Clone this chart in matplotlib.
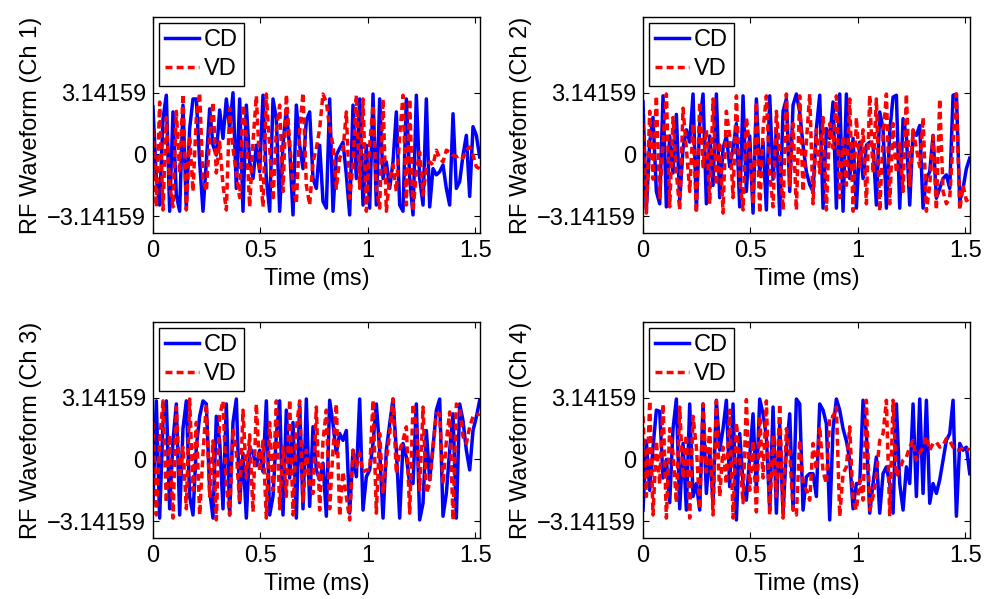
import numpy as np
import matplotlib
matplotlib.use('Agg')
import matplotlib.pyplot as plt

plt.rcParams['font.family'] = ['Liberation Sans', 'DejaVu Sans']

#----------------------------------------
# Data: wrapped RF phase, in units of pi, sampled on a uniform time grid
T_END = 1.52  # ms
channels = ['Ch 1', 'Ch 2', 'Ch 3', 'Ch 4']

cd_ch1 = [0.77, -0.39, -0.82, 0.58, 0.96, -0.92, 0.69, -0.66, -0.92, 0.8,
          -0.87, 0.42, 0.9, 0.9, -0.12, -0.92, -0.12, 0.74, 0.15, -0.01,
          0.72, 0.26, 0.9, 0.42, 1.0, -0.55, 0.9, -0.92, 0.8, -0.12,
          -0.39, 0.15, -0.28, 0.96, -0.39, -0.92, 0.9, 0.58, -0.92, 0.15,
          0.74, 0.1, -0.98, 0.8, 0.15, -0.23, 0.55, 0.69, -0.39, -0.55,
          0.15, -0.76, -0.87, 0.9, -0.92, -0.01, 0.1, 0.2, -0.33, -0.98,
          0.8, -0.39, 0.9, -0.82, 0.15, -0.87, 0.98, -0.82, 0.9, -0.39,
          -0.12, -0.55, -0.12, 0.69, -0.82, -0.92, 0.9, -0.39, -0.98, 0.96,
          -0.39, -0.82, 0.9, -0.85, -0.23, -0.33, -0.28, -0.17, -0.55, -0.82,
          0.66, -0.55, -0.44, -0.01, 0.31, -0.68, 0.45, 0.31, -0.04]
vd_ch1 = [0.4, -0.85, 0.85, -0.9, 0.6, -0.5, -0.85, 0.7, -0.3, 0.98,
          -0.9, 0.3, -0.6, 0.6, 1.0, -0.4, -0.6, 0.3, 0.85, -0.3,
          0.2, -0.5, -0.9, 0.75, 0.1, -0.3, -0.7, 0.8, 0.3, -0.85,
          0.2, 0.95, -0.2, -0.85, 0.98, 0.1, -0.75, 0.4, 0.8, -0.6,
          0.97, 0.2, -0.5, -0.8, 0.4, 1.0, -0.5, -0.82, -0.12, 0.1,
          0.42, 0.98, 0.85, 0.42, 0.15, -0.55, -0.06, 0.07, 0.69, -0.71,
          -0.17, 0.96, -0.55, 0.9, -0.92, 0.15, 0.8, -0.55, -0.87, 0.9,
          -0.92, -0.39, -0.17, -0.6, 0.31, 0.96, -0.82, 0.9, -0.92, -0.28,
          0.04, -0.66, -0.23, -0.12, -0.17, 0.07, -0.06, -0.12, 0.07, 0.04,
          -0.01, -0.04, -0.01, -0.06, 0.07, 0.12, -0.01, -0.2, -0.23]

cd_ch2 = [0.85, -0.9, 0.2, 0.6, -0.6, -0.8, 0.95, -0.85, 0.3, -0.3,
          0.65, -0.75, 0.1, 0.4, 0.2, 0.98, -0.9, 0.5, 0.98, -0.8,
          0.3, -0.5, 0.98, -0.7, 0.1, 0.3, -0.2, 0.1, 0.5, -0.85,
          0.95, -0.6, 0.3, -0.95, 0.9, -0.3, 0.2, -0.9, 0.95, -0.4,
          0.4, -0.98, 0.7, 0.9, -0.6, 0.8, 0.98, 0.69, 0.15, -0.28,
          -0.49, -0.6, 0.42, 0.96, -0.87, 0.42, 0.26, 0.85, -0.87, 0.98,
          -0.92, 0.98, -0.39, 0.26, -0.87, 0.2, -0.39, 0.15, 0.2, 0.15,
          -0.82, 0.69, 0.42, -0.87, 0.37, 0.93, 0.96, -0.87, 0.58, 0.31,
          -0.82, 0.37, 0.31, 0.47, -0.87, -0.39, -0.28, 0.31, -0.71, -0.55,
          -0.39, -0.33, -0.55, 0.96, 0.98, -0.76, -0.55, -0.23, -0.06]
vd_ch2 = [0.5, -0.95, 0.7, -0.4, 0.95, -0.7, 0.2, 0.98, -0.85, 0.6,
          -0.3, -0.9, 0.75, 0.1, -0.6, 0.5, -0.95, 0.85, -0.2, 0.4,
          -0.8, 0.9, -0.5, 0.2, -0.95, 0.7, 0.3, -0.7, 0.95, -0.4,
          -0.9, 0.6, 0.1, -0.8, 0.85, -0.95, 0.4, 0.95, -0.3, -0.85,
          0.7, 0.0, -0.9, 0.98, -0.5, 0.5, -0.9, 0.95, -0.6, 0.2,
          0.98, -0.8, 0.4, -0.3, 0.6, -0.9, 0.5, 0.1, 0.95, -0.7,
          0.3, -0.5, 0.9, -0.92, 0.6, -0.2, 0.4, -0.8, 0.96, -0.3,
          0.9, -0.92, 0.3, 0.98, -0.8, 0.5, -0.3, 0.2, -0.6, 0.98,
          -0.5, 0.4, 0.1, -0.2, 0.6, -0.92, -0.5, 0.3, -0.9, 0.9,
          -0.6, -0.8, -0.7, 0.2, 0.98, -0.9, -0.5, -0.75, -0.7]

cd_ch3 = [-0.7, 0.95, -0.95, 0.6, 0.95, -0.8, 0.3, 0.9, -0.9, 0.5,
          0.95, -0.6, -0.9, 0.2, 0.7, 0.95, 0.9, -0.5, -0.95, 0.7,
          0.3, -0.8, 0.9, -0.9, 0.6, 0.98, -0.7, 0.1, -0.95, 0.2,
          0.1, -0.1, 0.15, -0.2, 0.95, -0.9, -0.6, 0.4, 0.95, -0.9,
          0.8, -0.3, 0.6, -0.95, 0.9, -0.8, 0.98, -0.76, 0.53, -0.17,
          -0.33, -0.06, -0.92, 0.96, 0.58, 0.1, 0.42, 0.31, 0.47, -0.87,
          0.15, -0.28, 0.98, -0.82, -0.28, -0.17, 0.26, 0.9, 0.15, -0.95,
          0.15, 0.58, 0.98, 0.15, -0.95, 0.26, 0.04, -0.39, -0.39, 0.9,
          -0.98, -0.71, 0.47, -0.33, 0.2, 0.8, 0.98, -0.92, -0.55, 0.15,
          0.74, -0.95, 0.9, 0.63, 0.15, -0.17, 0.47, 0.69, 0.96]
vd_ch3 = [0.6, -0.9, 0.3, 0.95, -0.7, 0.4, -0.95, 0.85, -0.3, 0.2,
          -0.8, 0.98, -0.5, 0.6, -0.9, 0.1, 0.9, -0.6, 0.3, -0.98,
          0.7, 0.95, -0.4, -0.9, 0.5, 0.1, -0.7, 0.8, -0.3, 0.4,
          -0.85, 0.9, -0.2, 0.3, -0.95, 0.6, -0.5, 0.95, -0.8, 0.2,
          -0.6, 0.97, -0.9, 0.5, 0.95, -0.7, 0.15, -0.39, -0.55, 0.85,
          -0.82, 0.3, 0.8, -0.8, 0.15, 0.9, -0.92, -0.2, -0.6, -0.98,
          0.15, -0.12, 0.1, -0.2, -0.17, -0.17, 0.96, -0.87, 0.42, -0.55,
          -0.01, 0.42, 0.98, -0.23, 0.15, 0.31, 0.53, -0.87, 0.9, 0.53,
          -0.49, 0.85, -0.55, -0.39, 0.2, 0.74, 0.74, -0.4, 0.3, 0.77,
          -0.98, 0.9, 0.85, 0.37, 0.26, 0.53, 0.7, 0.72, 0.74]

cd_ch4 = [-0.82, 0.3, -0.5, 0.2, 0.8, 0.78, -0.3, 0.0, -0.7, 0.5,
          0.98, -0.8, 0.26, -0.82, 0.9, -0.6, -0.39, -0.82, 0.9, -0.55,
          0.15, -0.71, 0.96, 0.15, 0.5, 0.96, -0.44, 0.9, -0.98, 0.42,
          -0.39, -0.66, 0.04, 0.74, -0.5, 0.98, 0.74, 0.37, -0.82, 0.85,
          -0.87, 0.58, -0.87, 0.15, 0.74, -0.82, 0.98, 0.9, -0.82, -0.28,
          -0.23, -0.23, -0.6, 0.9, 0.8, 0.58, -0.98, 0.5, 0.98, 0.8,
          0.5, 0.3, 0.0, -0.8, -0.39, -0.39, 0.96, 0.42, -0.87, -0.39,
          0.04, -0.87, -0.23, -0.12, -0.39, -0.87, 0.9, -0.39, -0.82, -0.12,
          -0.39, 0.9, -0.6, 0.98, -0.55, 0.96, -0.71, -0.39, -0.55, -0.33,
          -0.01, 0.31, 0.42, 0.96, -0.92, 0.26, 0.15, 0.2, -0.23]
vd_ch4 = [0.7, -0.6, 0.95, -0.9, 0.3, -0.4, 0.9, -0.95, 0.5, 0.1,
          -0.7, 0.85, -0.3, 0.4, -0.95, 0.7, 0.2, -0.8, 0.9, -0.2,
          0.5, -0.9, 0.95, -0.6, 0.2, -0.4, 0.8, -0.95, 0.6, 0.0,
          -0.7, 0.97, -0.5, 0.3, -0.85, 0.7, -0.3, 0.95, -0.9, 0.4,
          -0.6, 0.9, -0.95, 0.5, 0.1, -0.8, -0.9, 0.31, -0.39, -0.5,
          -0.66, 0.26, -0.17, 0.53, -0.2, -0.39, 0.7, 0.69, 0.85, -0.92,
          -0.23, -0.12, 0.53, -0.66, -0.82, -0.33, -0.66, 0.96, -0.82, -0.6,
          -0.23, 0.31, 0.42, 0.96, -0.92, 0.96, -0.28, -0.17, -0.01, 0.04,
          0.2, 0.31, -0.01, 0.1, 0.2, 0.37, 0.15, 0.26, 0.28, 0.2,
          0.23, 0.34, 0.3, 0.2, 0.15, 0.15, 0.2, 0.18, 0.15]

cd_series = [cd_ch1, cd_ch2, cd_ch3, cd_ch4]
vd_series = [vd_ch1, vd_ch2, vd_ch3, vd_ch4]

x_ticks = [0, 0.5, 1, 1.5]
x_tick_labels = ['0', '0.5', '1', '1.5']
y_ticks = [-np.pi, 0, np.pi]
y_tick_labels = ['\u22123.14159', '0', '3.14159']

#----------------------------------------
# Figure layout (2 x 2, positions in figure fractions)
FS = 17
fig = plt.figure(figsize=(9.87, 5.99), dpi=100)
positions = [[0.155, 0.611, 0.331, 0.3606],
             [0.6515, 0.611, 0.331, 0.3606],
             [0.155, 0.1018, 0.331, 0.3606],
             [0.6515, 0.1018, 0.331, 0.3606]]

for pos, name, cd, vd in zip(positions, channels, cd_series, vd_series):
  ax = fig.add_axes(pos)
  t_cd = np.linspace(0, T_END, len(cd))
  t_vd = np.linspace(0, T_END, len(vd))
  ax.plot(t_cd, np.array(cd) * np.pi, color='b', lw=2.5, label='CD')
  ax.plot(t_vd, np.array(vd) * np.pi, color='r', lw=2.5,
          linestyle=(0, (2.0, 1.2)), label='VD')

  ax.set_xlim(0, T_END)
  ax.set_ylim(-4, 7)
  ax.set_xticks(x_ticks)
  ax.set_xticklabels(x_tick_labels)
  ax.set_yticks(y_ticks)
  ax.set_yticklabels(y_tick_labels)
  ax.tick_params(direction='in', top=True, right=True, length=4,
                 width=0.8, labelsize=FS, pad=5)
  for spine in ax.spines.values():
    spine.set_linewidth(1.0)
  ax.set_xlabel('Time (ms)', fontsize=FS, labelpad=4)
  ax.set_ylabel('RF Waveform (%s)' % name, fontsize=FS, labelpad=3.5)

  leg = ax.legend(loc='upper left', fontsize=FS, fancybox=False,
                  edgecolor='k', framealpha=1, borderaxespad=0.25,
                  handlelength=1.45, handletextpad=0.2, borderpad=0.25,
                  labelspacing=0.32)
  leg.get_frame().set_linewidth(1.0)

fig.savefig('out.png', dpi=100)
